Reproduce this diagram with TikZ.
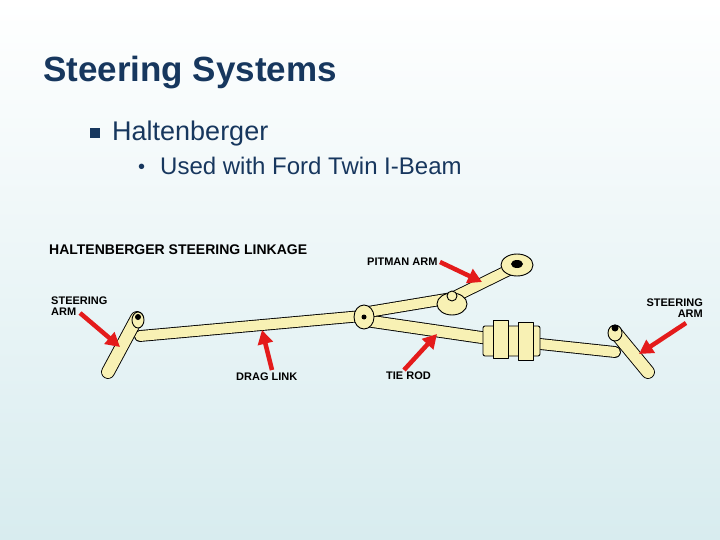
\documentclass[tikz,border=0pt]{standalone}
\usepackage{fontspec}
\setmainfont{Liberation Sans}
\usetikzlibrary{arrows.meta}
\definecolor{titleblue}{HTML}{17375E}
\definecolor{part}{HTML}{F8F1B4}
\definecolor{redarrow}{HTML}{E41B1B}
\definecolor{bgbot}{HTML}{D8ECEF}
\begin{document}
\begin{tikzpicture}[x=1pt,y=-1pt,
  lbl/.style={font=\bfseries\fontsize{11}{11.5}\selectfont,align=left,inner sep=0pt,anchor=west},
  rod/.style={draw=black,line width=0.9pt,fill=part,line join=round},
  bar/.style={line cap=round},
  redarr/.style={draw=redarrow,line width=4.5pt,-{Triangle[length=14pt,width=15pt]}}]
\useasboundingbox (0,0) rectangle (720,540);
\shade[top color=white,bottom color=bgbot] (0,0) rectangle (720,540);
\node[anchor=base west,inner sep=0pt,text=titleblue,font=\bfseries\fontsize{35}{35}\selectfont] (title) at (43,82) {Steering Systems};
\node[anchor=base west,inner sep=0pt,text=titleblue] (b1) at (90,138) {\rule{10pt}{10pt}};
\node[anchor=base west,inner sep=0pt,text=titleblue,font=\fontsize{27}{27}\selectfont] (t1) at (112,141) {Haltenberger};
\node[anchor=base west,inner sep=0pt,text=titleblue,font=\fontsize{20}{20}\selectfont] (bul) at (138,174) {\textbullet};
\node[anchor=base west,inner sep=0pt,text=titleblue,font=\fontsize{24}{24}\selectfont] (t2) at (160,175) {Used with Ford Twin I-Beam};
\node[lbl,font=\bfseries\fontsize{14}{14}\selectfont] (head) at (49,250) {HALTENBERGER STEERING LINKAGE};
% rods
\foreach \a/\b/\w in {{(140,336)}/{(362,316)}/10, {(362,320)}/{(485,338)}/11, {(362,313)}/{(452,298)}/10, {(452,298)}/{(517,266)}/10, {(540,344)}/{(615,352)}/10}{
  \draw[bar,line width=\w pt+1.8pt,black] \a -- \b;
  \draw[bar,line width=\w pt,part] \a -- \b;}
% steering arms
\foreach \a/\b in {{(108,372)}/{(137,318)}, {(648,372)}/{(615,332)}}{
  \draw[bar,line width=13.8pt,black] \a -- \b;
  \draw[bar,line width=12pt,part] \a -- \b;}
\draw[rod] (138,320) ellipse (6 and 8);
\draw[rod] (615,333) ellipse (7 and 8);
\fill (138,317) circle (3);
\fill (615,328) circle (3.5);
% joints
\draw[rod] (364,317) ellipse (10 and 12);
\fill (364,317) circle (2.5);
\draw[rod] (452,304) ellipse (15 and 11);
\draw[rod] (452,296) circle (5);
\draw[rod] (517,265) ellipse (16 and 11);
\fill (517,264) ellipse (6 and 4);
% adjusting sleeve
\draw[rod,rounded corners=2pt] (483,326) rectangle (540,356);
\draw[rod] (493,320) rectangle (508,358);
\draw[rod] (518,322) rectangle (533,360);
% arrows
\draw[redarr] (80,313) -- (120,347);
\draw[redarr] (272,370) -- (262,330);
\draw[redarr] (404,370) -- (437,334);
\draw[redarr] (440,262) -- (482,282);
\draw[redarr] (686,323) -- (639,354);
% labels
\node[lbl] (l1) at (51,306) {STEERING\\ARM};
\node[lbl] (l2) at (236,377) {DRAG LINK};
\node[lbl] (l3) at (386,376) {TIE ROD};
\node[lbl] (l4) at (367,262) {PITMAN ARM};
\node[lbl,align=right,anchor=east] (l5) at (703,308) {STEERING\\ARM};
\end{tikzpicture}
\end{document}
